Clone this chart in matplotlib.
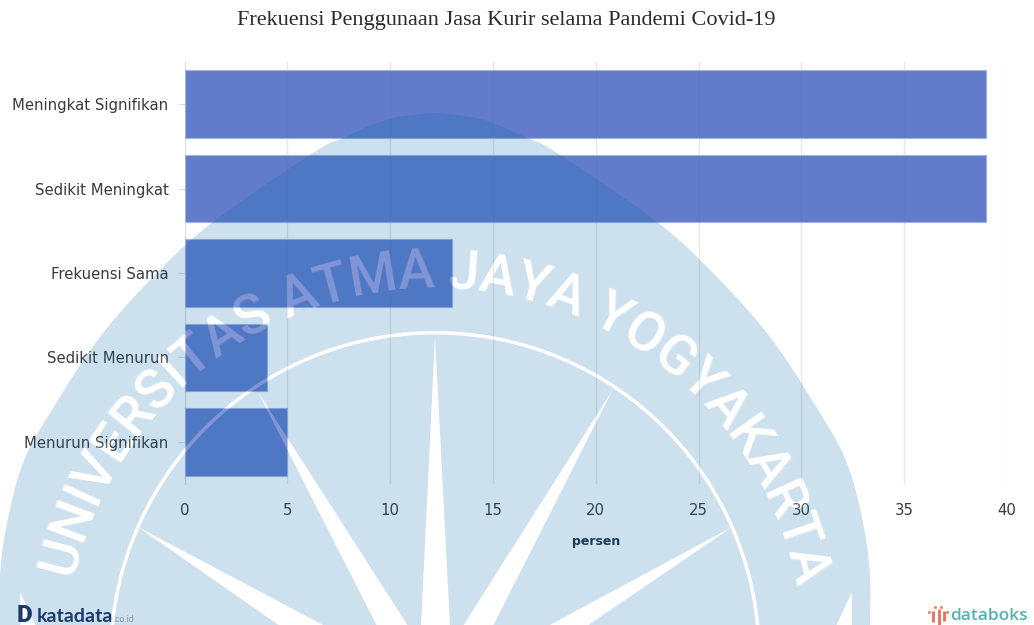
import numpy as np
from matplotlib import pyplot as plt
from matplotlib.path import Path
from matplotlib.patches import PathPatch
from matplotlib.textpath import TextPath
from matplotlib.font_manager import FontProperties

categories = ['Meningkat Signifikan', 'Sedikit Meningkat', 'Frekuensi Sama',
              'Sedikit Menurun', 'Menurun Signifikan']
values = [39, 39, 13, 4, 5]
xticks = [0, 5, 10, 15, 20, 25, 30, 35, 40]
title = 'Frekuensi Penggunaan Jasa Kurir selama Pandemi Covid-19'
xlabel = 'persen'
mark_text = 'UNIVERSITAS ATMA JAYA YOGYAKARTA'

W, H, DPI = 1034, 625, 100
fig = plt.figure(figsize=(W / DPI, H / DPI), dpi=DPI, facecolor='white')

# chart
ax = fig.add_axes([184.5 / W, 1 - 484 / H, 822.5 / W, 422 / H], zorder=1)
ax.barh(range(len(values)), values, height=0.8,
        facecolor=(0x46 / 255, 0x65 / 255, 0xC2 / 255, 0.85),
        edgecolor='#a3b2e3', linewidth=0.8, zorder=3)
ax.set_xlim(0, 40)
ax.set_ylim(4.5, -0.5)
ax.set_xticks(xticks)
ax.set_yticks(range(len(categories)))
ax.set_yticklabels(categories)
ax.grid(axis='x', color='#e8e8e8', linewidth=1, zorder=0)
ax.set_axisbelow(True)
for s in ['top', 'right', 'bottom']:
    ax.spines[s].set_visible(False)
ax.spines['left'].set_color('#dcdcdc')
ax.tick_params(axis='y', length=5, color='#dcdcdc', pad=6.5, labelsize=10.7, labelcolor='#3a3a3a')
ax.tick_params(axis='x', length=0, pad=14, labelsize=10.7, labelcolor='#3a3a3a')

# everything below is drawn in pixel coordinates of the picture
px = fig.add_axes([0, 0, 1, 1], zorder=2)
px.set_xlim(0, W)
px.set_ylim(H, 0)
px.axis('off')
px.patch.set_alpha(0)

px.text(506, 20, title, family='Liberation Serif', fontsize=16, color='#2b2b2b',
        ha='center', va='center')
px.text(596, 542, xlabel, fontsize=9, fontweight='bold', color='#22303f',
        ha='center', va='center')


def area(p):
    x, y = p[:, 0], p[:, 1]
    return 0.5 * np.sum(x * np.roll(y, -1) - np.roll(x, -1) * y)


def smooth(p, n=10):
    p = np.array(p, float)
    p = np.vstack([p[0], p, p[-1]])
    out = []
    for i in range(1, len(p) - 2):
        t = np.linspace(0, 1, n, endpoint=False)[:, None]
        out.append(0.5 * (2 * p[i] + (p[i + 1] - p[i - 1]) * t
                          + (2 * p[i - 1] - 5 * p[i] + 4 * p[i + 1] - p[i + 2]) * t ** 2
                          + (3 * p[i] - p[i - 1] - 3 * p[i + 1] + p[i + 2]) * t ** 3))
    out.append(p[-2:-1])
    return np.vstack(out)


def orient(p, sign):
    p = np.array(p, float)
    return p if np.sign(area(p)) == sign else p[::-1]


# university watermark: blue shield with the white parts cut out
CX, CY = 435, 657
right_edge = [(0, 113), (46, 119), (92, 138), (122, 153), (222, 222), (278, 273), (335, 337),
              (385, 413), (412, 463), (428, 523), (435, 575), (435, 626)]
edge = smooth(right_edge)
shield = np.vstack([np.c_[CX - edge[::-1, 0], edge[::-1, 1]], np.c_[CX + edge[1:, 0], edge[1:, 1]]])
shield = orient(shield, 1)

th = np.linspace(0, 2 * np.pi, 400)
ring_out = np.c_[CX + 326 * np.cos(th), CY + 326 * np.sin(th)]
ring_in = np.c_[CX + 322.5 * np.cos(th), CY + 322.5 * np.sin(th)]
spikes = [
    [(435, 337), (421, 626), (450, 626)],
    [(258, 392), (377, 626), (408, 626)],
    [(138, 527), (280, 626), (325, 626)],
    [(612, 391), (463, 626), (493, 626)],
    [(732, 527), (548, 626), (587, 626)],
    [(20, 592), (20, 626), (36, 626)],
    [(852, 592), (852, 626), (836, 626)],
]
cut = [orient(ring_out, -1), orient(ring_in, 1)] + [orient(s, -1) for s in spikes]
white = [orient(ring_out, 1), orient(ring_in, -1)] + [orient(s, 1) for s in spikes]

# letters placed one by one on an arc
mark_font = FontProperties(family='Roboto', weight='medium')
MARK_PX = 55
BASE_R = 369
tn = TextPath((0, 0), 'nn', size=MARK_PX, prop=mark_font).get_extents().width
adv = np.array([TextPath((0, 0), 'n' + ch + 'n', size=MARK_PX, prop=mark_font).get_extents().width - tn
                for ch in mark_text])
start, stop = np.radians(-78), np.radians(79)
scale = (stop - start) / adv.sum()
mids = start + (np.cumsum(adv) - adv / 2) * scale
for ch, a, w in zip(mark_text, mids, adv):
    if ch == ' ':
        continue
    tan = np.array([np.cos(a), np.sin(a)])
    up = np.array([np.sin(a), -np.cos(a)])
    pen = np.array([CX, CY]) + BASE_R * up - tan * w / 2
    raw = TextPath((0, 0), ch, size=MARK_PX, prop=mark_font).to_polygons()
    polys = [pen + p[:, :1] * tan + p[:, 1:] * up for p in raw]
    big = max(polys, key=lambda q: abs(area(q)))
    if np.sign(area(big)) > 0:
        polys = [q[::-1] for q in polys]
    cut += polys
    # Agg adds the side bearing of a glyph horizontally, even for rotated text
    bearing = min(p[:, 0].min() for p in raw)
    anchor = pen + bearing * tan - np.array([bearing, 0])
    px.text(anchor[0], anchor[1], ch, fontproperties=mark_font, fontsize=MARK_PX * 72 / DPI,
            color='white', alpha=0.2, ha='left', va='baseline',
            rotation=-np.degrees(a), rotation_mode='anchor', zorder=6)

blue = Path.make_compound_path(*[Path(p) for p in [shield] + cut])
px.add_patch(PathPatch(blue, facecolor=(0, 100 / 255, 170 / 255, 0.2), edgecolor='none', zorder=5))
glow = Path.make_compound_path(*[Path(p) for p in white])
px.add_patch(PathPatch(glow, facecolor=(1, 1, 1, 0.2), edgecolor='none', zorder=6))

# source logos
px.text(17, 622, 'D', family='Roboto', fontweight='black', fontsize=17.5, color='#1d3a70',
        ha='left', va='baseline', zorder=8)
px.text(37, 622, 'katadata', family='Lato', fontweight='bold', fontsize=14, color='#1d3a70',
        ha='left', va='baseline', zorder=8)
px.text(113, 622, '.co.id', family='Lato', fontsize=6.5, color='#7d9ab5',
        ha='left', va='baseline', zorder=8)
px.text(950, 620, 'databoks', family='Open Sans', fontweight='semibold', fontsize=12.5,
        color='#55b3ad', ha='left', va='baseline', zorder=8)
px.vlines([933, 939, 944], [611, 609, 611], [622, 625, 621], color='#e8705f', linewidth=2, zorder=8)
px.scatter([929, 935, 941, 947], [612, 607, 607, 612], s=5, color='#ef8a5a', linewidths=0, zorder=8)

plt.savefig('out.png', dpi=DPI, facecolor='white')
